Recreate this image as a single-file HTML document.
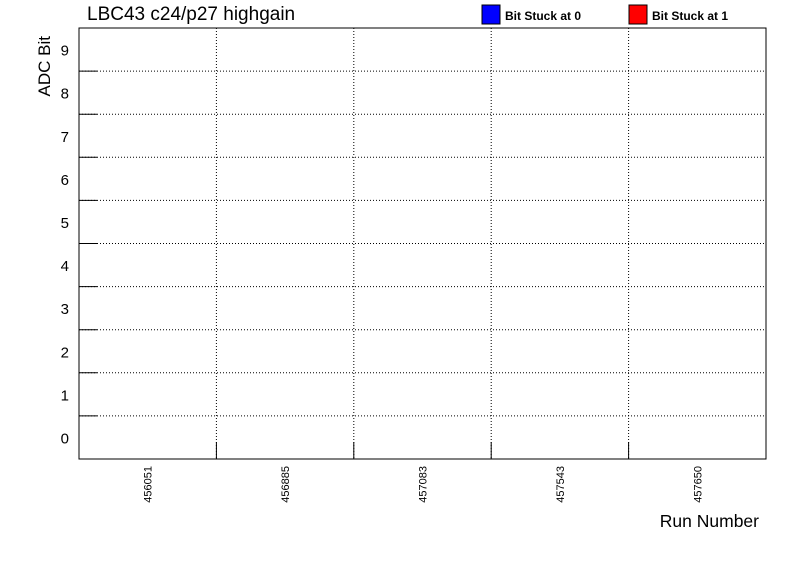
<!DOCTYPE html>
<html><head><meta charset="utf-8"><style>body{margin:0;background:#fff}svg{display:block;font-family:"Liberation Sans",sans-serif}</style></head>
<body>
<svg width="796" height="574">
<g id="grid"></g>
<rect x="79" y="28" width="687" height="431" fill="none" stroke="#000" stroke-width="1"/>
<g id="axes"></g>
<text x="87" y="20" font-size="19">LBC43 c24/p27 highgain</text>
<text x="50" y="36" font-size="17" transform="rotate(-90 50 36)" text-anchor="end">ADC Bit</text>
<text x="759" y="527" font-size="17.5" text-anchor="end">Run Number</text>
<g><rect x="482" y="5" width="18" height="19" fill="#00f" stroke="#000"/><text x="505" y="20" font-size="12" font-weight="bold">Bit Stuck at 0</text></g>
<g><rect x="629" y="5" width="18" height="19" fill="#f00" stroke="#000"/><text x="652" y="20" font-size="12" font-weight="bold">Bit Stuck at 1</text></g>
</svg>
<script>
const runs=["456051","456885","457083","457543","457650"];
const bits=[0,1,2,3,4,5,6,7,8,9];
const X0=79,X1=766,Y0=28,Y1=459;
const ns="http://www.w3.org/2000/svg";
const grid=document.getElementById('grid'),axes=document.getElementById('axes');
const cw=(X1-X0)/runs.length, rh=(Y1-Y0)/bits.length;
function mk(tag,attrs,parent){const e=document.createElementNS(ns,tag);for(const k in attrs)e.setAttribute(k,attrs[k]);parent.appendChild(e);return e;}
runs.forEach((r,i)=>{
  const xb=X0+cw*(i+1);
  if(i<runs.length-1){
    const l=mk('line',{x1:xb,x2:xb,y1:Y0,y2:Y1,stroke:'#000','stroke-dasharray':'1,2'},grid);
    
    
    const t=mk('line',{x1:xb,x2:xb,y1:Y1,y2:Y1-17,stroke:'#000'},axes);
    
    
  }
  const xc=X0+cw*(i+0.5);
  const tx=mk('text',{x:xc+4,y:466,'font-size':11,'text-anchor':'end',transform:`rotate(-90 ${xc+4} 466)`},axes);
  tx.textContent=r;
  
  
});
bits.forEach((b,i)=>{
  const yb=Y1-rh*(i+1);
  if(i<bits.length-1){
    const l=mk('line',{x1:X0,x2:X1,y1:yb,y2:yb,stroke:'#000','stroke-dasharray':'1,2'},grid);
    
    
    const t=mk('line',{x1:X0,x2:X0+18,y1:yb,y2:yb,stroke:'#000'},axes);
    
    
  }
  const yc=Y1-rh*(i+0.5);
  const tx=mk('text',{x:69,y:yc+6,'font-size':15,'text-anchor':'end'},axes);
  tx.textContent=b;
  
  
});
</script>
</body></html>
